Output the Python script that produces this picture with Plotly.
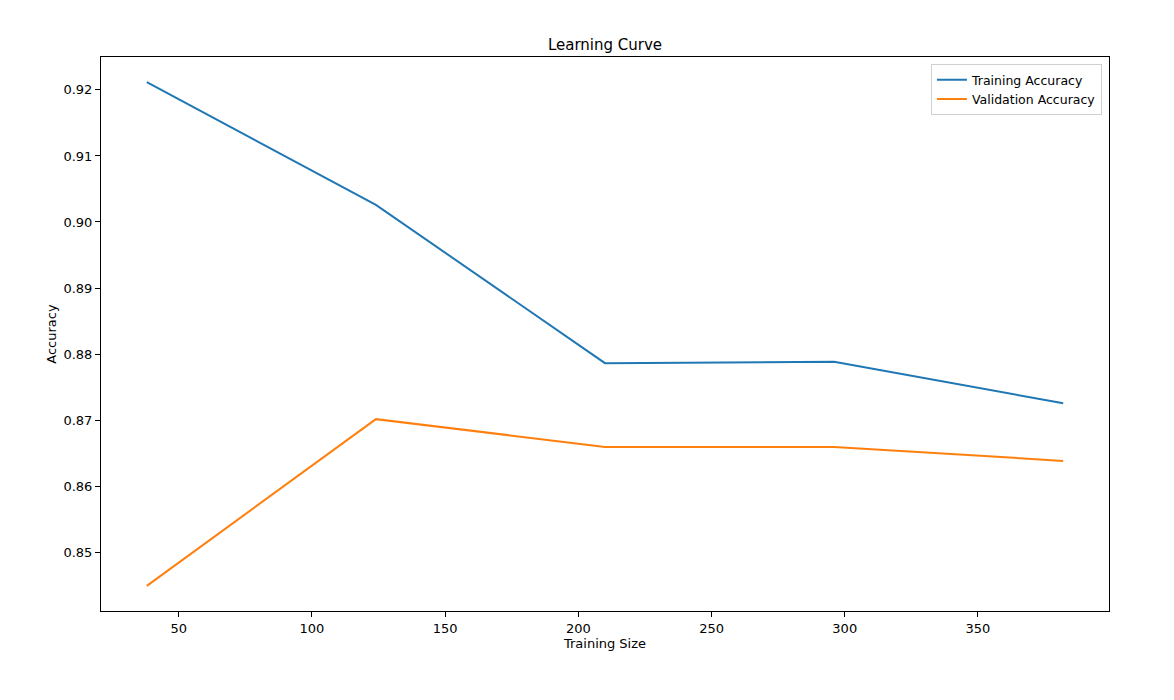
import plotly.graph_objects as go

# learning curve values
train_sizes = [38, 124, 210, 296, 382]
train_acc = [0.92117, 0.90259, 0.87862, 0.87882, 0.87256]
val_acc = [0.84490, 0.87014, 0.86594, 0.86594, 0.86382]

font = "DejaVu Sans"

fig = go.Figure()
fig.add_trace(go.Scatter(x=train_sizes, y=train_acc, mode="lines",
                         name="Training Accuracy",
                         line=dict(color="#1f77b4", width=2)))
fig.add_trace(go.Scatter(x=train_sizes, y=val_acc, mode="lines",
                         name="Validation Accuracy",
                         line=dict(color="#ff7f0e", width=2)))

# matplotlib style 5% margins around the data
xpad = (max(train_sizes) - min(train_sizes)) * 0.05
ylo = min(val_acc + train_acc)
yhi = max(val_acc + train_acc)
ypad = (yhi - ylo) * 0.05

axis_style = dict(showline=True, linecolor="black", linewidth=1.1, mirror=True,
                  ticks="outside", ticklen=5, tickwidth=1.1, tickcolor="black",
                  showgrid=False, zeroline=False,
                  tickfont=dict(family=font, size=13, color="black"))

# page body has an 8px margin, margins below account for it
fig.update_layout(
    width=1174, height=700,
    margin=dict(l=93, r=73, t=49, b=97),
    paper_bgcolor="white", plot_bgcolor="white",
    font=dict(family=font, size=13, color="black"),
    title=dict(text="Learning Curve", x=0.5, xref="paper", xanchor="center",
               y=1 - 37 / 700, yanchor="middle",
               font=dict(family=font, size=15, color="black")),
    xaxis=dict(range=[min(train_sizes) - xpad, max(train_sizes) + xpad],
               tickmode="linear", tick0=50, dtick=50,
               title=dict(text="Training Size", standoff=3,
                          font=dict(family=font, size=13, color="black")),
               **axis_style),
    yaxis=dict(range=[ylo - ypad, yhi + ypad],
               tickmode="linear", tick0=0.85, dtick=0.01, tickformat=".2f",
               title=dict(text="Accuracy", standoff=3,
                          font=dict(family=font, size=13, color="black")),
               **axis_style),
    legend=dict(x=0.993, y=0.987, xanchor="right", yanchor="top",
                bgcolor="rgba(255,255,255,0.8)", bordercolor="#d0d0d0",
                borderwidth=1, font=dict(family=font, size=12.5, color="black"),
                tracegroupgap=0),
    showlegend=True,
)

fig.write_html("out.html")
